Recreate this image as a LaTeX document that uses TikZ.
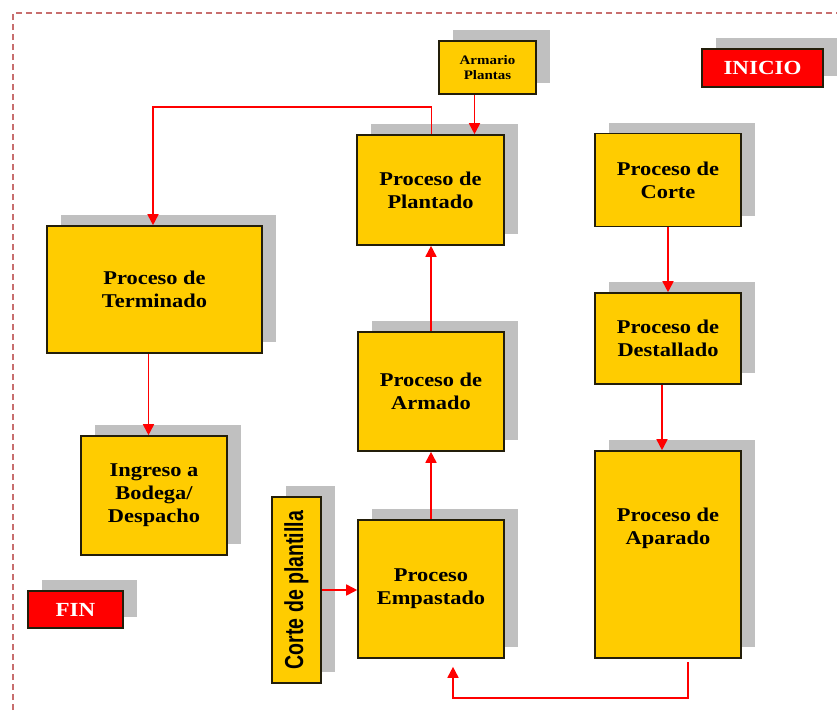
\documentclass[tikz,border=0pt]{standalone}
\usepackage{fontspec}
\setmainfont{Liberation Serif}[FakeStretch=1.15]
\newfontfamily\narrowfont{Liberation Sans}[FakeStretch=0.75]
\usetikzlibrary{arrows.meta,shadows}
\definecolor{boxgold}{RGB}{255,204,0}
\definecolor{shadowgray}{RGB}{192,192,192}
\definecolor{framerose}{RGB}{200,110,110}
\definecolor{boxline}{RGB}{35,30,10}
\begin{document}
\begin{tikzpicture}[x=1pt,y=-1pt,
    box/.style={draw=boxline, line width=1.6pt, fill=boxgold, align=center, inner sep=0pt,
      font=\bfseries\fontsize{19.5}{23}\selectfont,
      drop shadow={shadow xshift=14pt, shadow yshift=11pt, fill=shadowgray, opacity=1}},
    endbox/.style={box, fill=red, text=white, font=\bfseries\fontsize{20}{23}\selectfont},
    flow/.style={draw=red, line width=1.7pt, -{Triangle[length=11pt,width=11pt]}}]
      \useasboundingbox (0,0) rectangle (837,713);
      \draw[framerose, line width=1.4pt, dash pattern=on 6pt off 4pt]
        (13,720) -- (13,13) -- (845,13);
      % boxes
      \node[box, minimum width=97pt, minimum height=53pt, font=\bfseries\fontsize{13}{15}\selectfont]
        (armario) at (487.5,67.5) {Armario\\Plantas};
      \node[endbox, minimum width=121pt, minimum height=38pt] (inicio) at (762.5,68) {INICIO};
      \node[box, minimum width=147pt, minimum height=110pt] (plantado) at (430.5,190) {Proceso de\\Plantado};
      \node[box, minimum width=146pt, minimum height=93pt] (corte) at (668,180) {Proceso de\\Corte};
      \node[box, minimum width=215pt, minimum height=127pt] (terminado) at (154.5,289.5) {Proceso de\\Terminado};
      \node[box, minimum width=146pt, minimum height=119pt] (armado) at (431,391.5) {Proceso de\\Armado};
      \node[box, minimum width=146pt, minimum height=91pt] (destallado) at (668,338.5) {Proceso de\\Destallado};
      \node[box, minimum width=146pt, minimum height=119pt] (ingreso) at (154,495.5) {Ingreso a\\Bodega/\\Despacho};
      \node[box, minimum width=146pt, minimum height=207pt] (aparado) at (668,554.5) {};
      \node[align=center, font=\bfseries\fontsize{19.5}{23}\selectfont] (aparadotext) at (668,528) {Proceso de\\Aparado};
      \node[box, minimum width=146pt, minimum height=138pt] (empastado) at (431,589) {Proceso\\Empastado};
      \node[box, minimum width=49pt, minimum height=186pt] (plantilla) at (296.5,590)
        {\rotatebox{90}{\narrowfont\bfseries\fontsize{26}{28}\selectfont Corte de plantilla}};
      \node[endbox, minimum width=95pt, minimum height=37pt] (fin) at (75.5,609.5) {FIN};
      % connectors
      \draw[flow] ([xshift=-13pt]armario.south) -- ([xshift=-13pt]armario.south |- plantado.north);
      \draw[flow] ([xshift=1pt]plantado.north) -- ++(0,-27) -| ([xshift=-1.5pt]terminado.north);
      \draw[flow] (armado.north) -- (armado.north |- plantado.south);
      \draw[flow] (empastado.north) -- (armado.south);
      \draw[flow] (corte.south) -- (destallado.north);
      \draw[flow] ([xshift=-6pt]destallado.south) -- ([xshift=-6pt]destallado.south |- aparado.north);
      \draw[flow, shorten >=8pt] ([xshift=20pt,yshift=-3pt]aparado.south) -- ++(0,36) -| ([xshift=22pt]empastado.south);
      \draw[flow] (plantilla.east) -- (plantilla.east -| empastado.west);
      \draw[flow] ([xshift=-6pt]terminado.south) -- ([xshift=-6pt]terminado.south |- ingreso.north);
\end{tikzpicture}
\end{document}
